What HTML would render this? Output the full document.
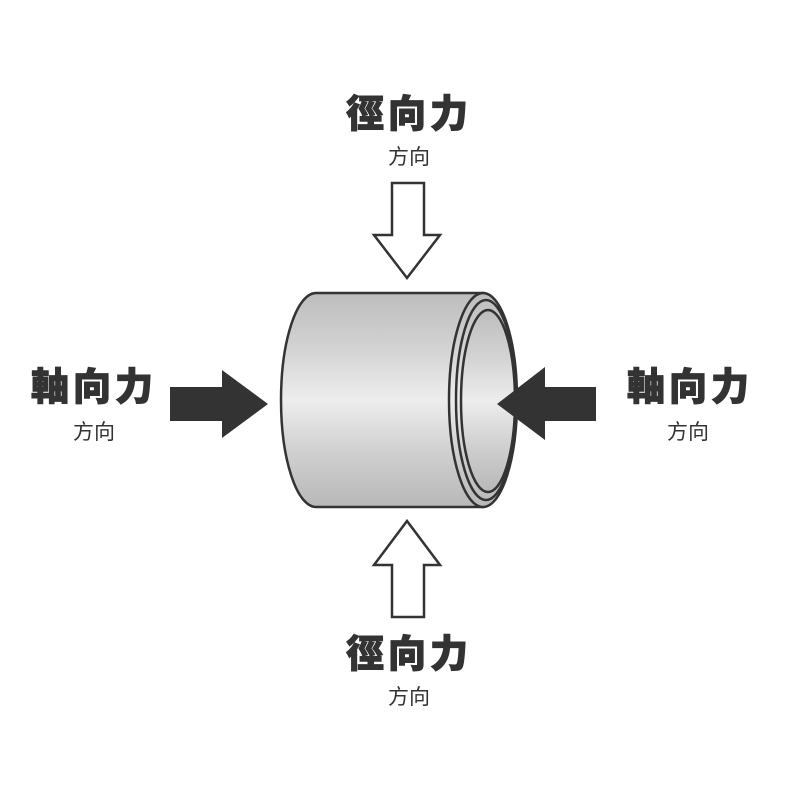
<!DOCTYPE html>
<html><head><meta charset="utf-8"><style>
body{margin:0;background:#fff;width:800px;height:800px;overflow:hidden;position:relative;font-family:"Liberation Sans","Noto Sans CJK TC",sans-serif;color:#333}
.t{position:absolute;font-weight:900;font-size:38px;letter-spacing:4px;text-align:center;width:200px;line-height:1;-webkit-text-stroke:1px #333}
.s{position:absolute;font-size:21px;text-align:center;width:200px;line-height:1}
</style></head><body>
<svg width="800" height="800" style="position:absolute;left:0;top:0">
<defs>
<linearGradient id="g" x1="0" y1="0" x2="0" y2="1">
<stop offset="0" stop-color="#bdbdbd"/><stop offset="0.25" stop-color="#d2d2d2"/><stop offset="0.5" stop-color="#ededed"/><stop offset="0.75" stop-color="#cfcfcf"/><stop offset="1" stop-color="#b8b8b8"/>
</linearGradient>
</defs>
<path d="M316,293 L483,293 L483,507 L316,507 A35,107 0 0 1 316,293 Z" fill="url(#g)" stroke="#333" stroke-width="2.5"/>
<ellipse cx="483" cy="400" rx="34" ry="107" fill="url(#g)" stroke="#333" stroke-width="2.5"/>
<ellipse cx="486" cy="400" rx="30" ry="100" fill="none" stroke="#333" stroke-width="2.5"/>
<ellipse cx="488" cy="401" rx="27" ry="91" fill="url(#g)" stroke="#333" stroke-width="2.5"/>
<polygon points="392,183 424,183 424,235 440,235 407,278 374,235 392,235" fill="#fff" stroke="#333" stroke-width="2.5"/>
<polygon points="392,617 424,617 424,565 440,565 407,521 374,565 392,565" fill="#fff" stroke="#333" stroke-width="2.5"/>
<polygon points="170,387 222,387 222,370 268,404 222,438 222,421 170,421" fill="#333"/>
<polygon points="596,387 545,387 545,367 497,404 545,440 545,421 596,421" fill="#333"/>
</svg>
<div class="t" style="left:309px;top:96px">徑向力</div>
<div class="s" style="left:309px;top:147px">方向</div>
<div class="t" style="left:309px;top:636px">徑向力</div>
<div class="s" style="left:309px;top:687px">方向</div>
<div class="t" style="left:-6px;top:369px">軸向力</div>
<div class="s" style="left:-6px;top:422px">方向</div>
<div class="t" style="left:590px;top:369px">軸向力</div>
<div class="s" style="left:588px;top:422px">方向</div>
</body></html>
